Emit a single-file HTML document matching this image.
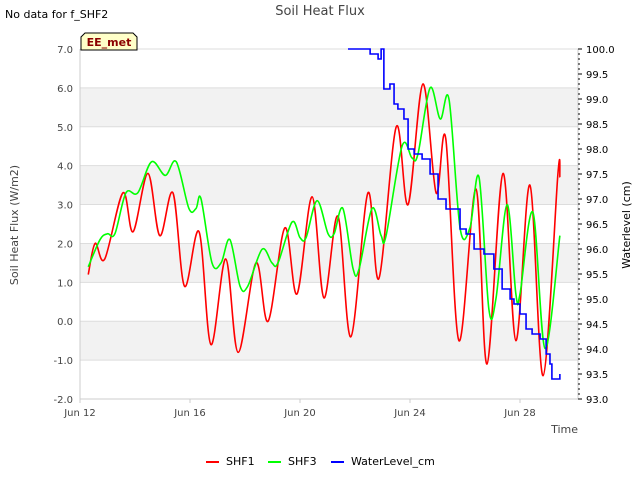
<!DOCTYPE html>
<html><head><meta charset="utf-8">
<style>
body{margin:0;background:#fff;font-family:"Liberation Sans","DejaVu Sans",sans-serif;}
svg text{font-family:"DejaVu Sans","Liberation Sans",sans-serif;}
</style></head>
<body>
<svg id="chart" width="640" height="480" viewBox="0 0 640 480">
<text x="5" y="18" font-size="11" fill="#000">No data for f_SHF2</text>
<text x="320" y="15" font-size="13" fill="#444" text-anchor="middle">Soil Heat Flux</text>
<g id="bands"></g>
<g id="grid"></g>
<g id="axes"></g>
<g id="series"></g>
<g>
<path d="M81,50 L81,37 L85,33 L133,33 L137,37 L137,50 Z" fill="#ffffc8" stroke="#000" stroke-width="1"/>
<text x="109" y="46" font-size="11" font-weight="bold" fill="#8b0000" text-anchor="middle">EE_met</text>
</g>
<text x="18" y="225" font-size="11" fill="#444" text-anchor="middle" transform="rotate(-90 18 225)">Soil Heat Flux (W/m2)</text>
<text x="630" y="225" font-size="11" fill="#000" text-anchor="middle" transform="rotate(-90 630 225)">Waterlevel (cm)</text>
<text x="578" y="433" font-size="11" fill="#444" text-anchor="end">Time</text>
<g>
<g><line x1="206" y1="462" x2="219" y2="462" stroke="#f00" stroke-width="2"/><text x="226" y="465" font-size="11" fill="#000">SHF1</text></g>
<g><line x1="268" y1="462" x2="281" y2="462" stroke="#0f0" stroke-width="2"/><text x="288" y="465" font-size="11" fill="#000">SHF3</text></g>
<g><line x1="331" y1="462" x2="344" y2="462" stroke="#00f" stroke-width="2"/><text x="351" y="465" font-size="11" fill="#000">WaterLevel_cm</text></g>
</g>
</svg>
<script>
// data (days since Jun 12)
const shf1Days=[0.3,0.55,0.9,1.56,1.93,2.47,2.9,3.38,3.8,4.33,4.76,5.3,5.75,6.4,6.84,7.45,7.89,8.44,8.87,9.38,9.85,10.47,10.87,11.5,11.93,12.47,12.95,13.3,13.78,14.4,14.8,15.38,15.85,16.36,16.84,17.38,17.45];
const shf1Vals=[1.2,2.0,1.6,3.3,2.3,3.8,2.2,3.3,0.9,2.3,-0.6,1.6,-0.8,1.5,0.0,2.4,0.7,3.2,0.6,2.7,-0.4,3.3,1.1,5.0,3.0,6.1,3.3,4.7,-0.5,3.4,-1.1,3.8,-0.5,3.5,-1.4,3.8,3.7];
const shf3Days=[0.3,0.73,1.0,1.27,1.67,2.1,2.6,3.1,3.5,3.96,4.22,4.4,4.8,5.13,5.45,5.82,6.1,6.62,6.98,7.2,7.71,8.0,8.22,8.62,9.02,9.24,9.56,9.93,10.15,10.62,10.95,11.13,11.71,12.07,12.29,12.73,13.1,13.42,13.82,14.18,14.51,14.87,15.13,15.53,15.85,16.0,16.47,16.91,17.45];
const shf3Vals=[1.4,2.1,2.25,2.25,3.3,3.3,4.1,3.75,4.1,2.9,2.9,3.15,1.5,1.5,2.1,0.9,0.9,1.85,1.5,1.5,2.55,2.15,2.15,3.1,2.25,2.25,2.9,1.35,1.35,2.9,2.2,2.2,4.5,4.2,4.3,6.0,5.2,5.7,2.4,2.4,3.7,0.3,0.6,3.0,0.7,0.7,2.8,-0.7,2.2];
const wlDays=[9.745,10.47,10.55,10.84,10.95,11.05,11.27,11.42,11.56,11.78,11.93,12.15,12.44,12.73,13.02,13.31,13.45,13.82,14.04,14.33,14.69,15.05,15.35,15.64,15.78,16.0,16.22,16.44,16.73,16.95,17.09,17.16,17.45];
const wlVals=[100.0,100.0,99.9,99.8,100.0,99.2,99.3,98.9,98.8,98.6,98.0,97.9,97.8,97.5,97.0,96.8,96.8,96.4,96.3,96.0,95.9,95.6,95.2,95.0,94.9,94.7,94.4,94.3,94.2,93.9,93.7,93.4,93.5];
const leftTicks=[-2,-1,0,1,2,3,4,5,6,7];
const rightTicks=[93.0,93.5,94.0,94.5,95.0,95.5,96.0,96.5,97.0,97.5,98.0,98.5,99.0,99.5,100.0];
const xTickDays=[0,4,8,12,16];
const xTickLabels=["Jun 12","Jun 16","Jun 20","Jun 24","Jun 28"];
const bandRanges=[[5,6],[3,4],[1,2],[-1,0]];

const X0=80,X1=578,YT=49,YB=399;
const xs=d=>X0+d*27.5;
const yl=v=>YB-(v+2)*(YB-YT)/9;
const yr=v=>YB-(v-93)*(YB-YT)/7;
const NS="http://www.w3.org/2000/svg";
function mk(tag,attrs,parent){const e=document.createElementNS(NS,tag);for(const k in attrs)e.setAttribute(k,attrs[k]);parent.appendChild(e);return e;}
const bands=document.getElementById('bands'),grid=document.getElementById('grid'),axes=document.getElementById('axes'),series=document.getElementById('series');
bandRanges.forEach(r=>{const e=mk('rect',{x:X0,y:yl(r[1]),width:X1-X0,height:yl(r[0])-yl(r[1]),fill:'#f2f2f2'},bands);

});
leftTicks.forEach(v=>{const l=mk('line',{x1:X0,x2:X1,y1:yl(v),y2:yl(v),stroke:'#ddd','stroke-width':1},grid);


const t=mk('text',{x:73,y:yl(v)+4,'font-size':10,fill:'#444','text-anchor':'end'},axes);t.textContent=v.toFixed(1);

});
mk('line',{x1:X0,x2:X0,y1:YT,y2:YB,stroke:'#ccc'},axes);
mk('line',{x1:X0,x2:X1,y1:YB,y2:YB,stroke:'#ccc'},axes);
mk('line',{x1:X1,x2:X1,y1:YT,y2:YB,stroke:'#ccc'},axes);
for(let i=0;i<=70;i++){const v=93+i*0.1;const maj=i%5===0;mk('line',{x1:X1,x2:X1+(maj?4:2),y1:yr(v),y2:yr(v),stroke:'#000'},axes);}
rightTicks.forEach(v=>{const t=mk('text',{x:586,y:yr(v)+4,'font-size':10,fill:'#000'},axes);t.textContent=v.toFixed(1);

});
xTickDays.forEach((d,i)=>{mk('line',{x1:xs(d),x2:xs(d),y1:YB,y2:YB+4,stroke:'#ccc'},axes);
const t=mk('text',{x:xs(d),y:416,'font-size':10,fill:'#444','text-anchor':'middle'},axes);t.textContent=xTickLabels[i];

});
function smooth(pts){let d='M'+pts[0][0]+','+pts[0][1];for(let i=0;i<pts.length-1;i++){const p0=pts[i-1]||pts[i],p1=pts[i],p2=pts[i+1],p3=pts[i+2]||p2;
const c1=[p1[0]+(p2[0]-p0[0])/6,p1[1]+(p2[1]-p0[1])/6],c2=[p2[0]-(p3[0]-p1[0])/6,p2[1]-(p3[1]-p1[1])/6];
d+=' C'+c1[0]+','+c1[1]+' '+c2[0]+','+c2[1]+' '+p2[0]+','+p2[1];}return d;}
const p1=mk('path',{d:smooth(shf1Days.map((d,i)=>[xs(d),yl(shf1Vals[i])])),fill:'none',stroke:'#f00','stroke-width':1.6},series);


const p3=mk('path',{d:smooth(shf3Days.map((d,i)=>[xs(d),yl(shf3Vals[i])])),fill:'none',stroke:'#0f0','stroke-width':1.6},series);


let wd='';wlDays.forEach((d,i)=>{const x=xs(d),y=yr(wlVals[i]);wd+=i===0?('M'+x+','+y):(' H'+x+' V'+y);});
const pw=mk('path',{d:wd,fill:'none',stroke:'#00f','stroke-width':1.6},series);


</script>
</body></html>
